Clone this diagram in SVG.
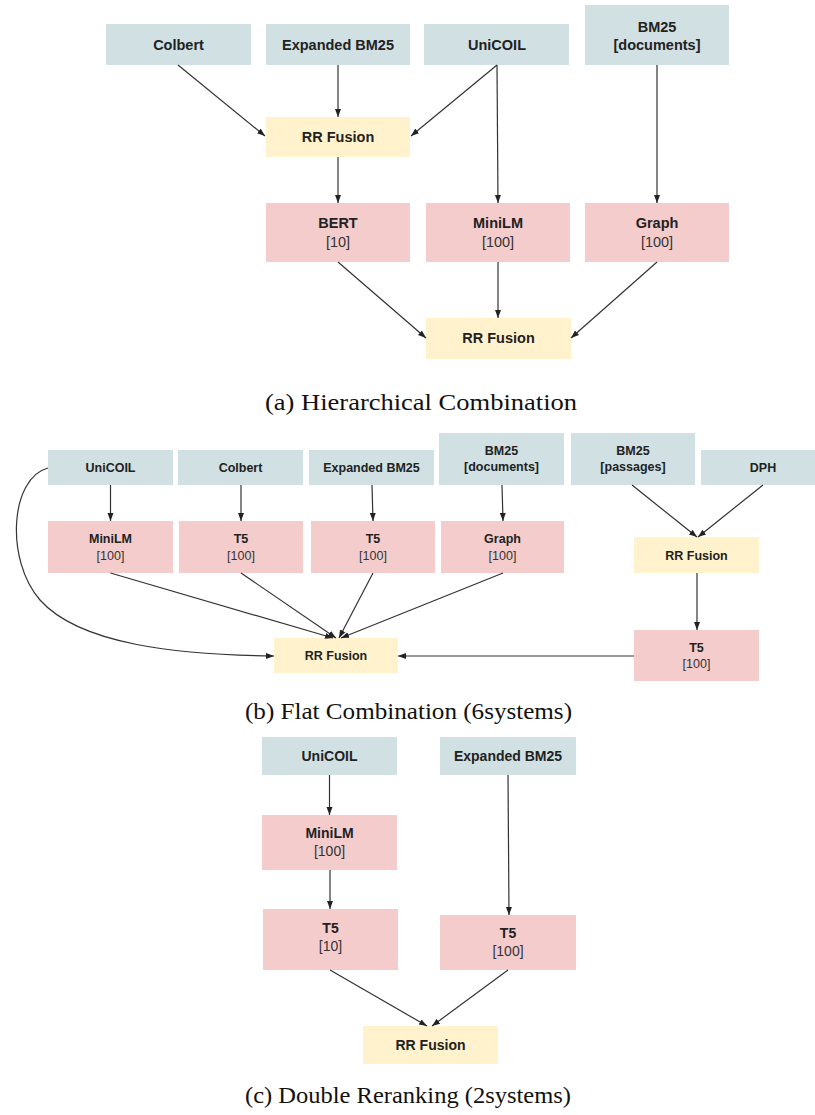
<svg xmlns="http://www.w3.org/2000/svg" width="815" height="1115" viewBox="0 0 815 1115">
<defs>
<marker id="ah" markerUnits="userSpaceOnUse" markerWidth="8" markerHeight="8" viewBox="0 0 8 8" refX="8" refY="4" orient="auto">
<path d="M0,1 L8,4 L0,7 Z" fill="#222"/>
</marker>
<style>
.b{fill:#d0e0e3}
.p{fill:#f4cccc}
.y{fill:#fff2cc}
.t{font-family:"Liberation Sans",Arial,sans-serif;font-weight:bold;fill:#222;text-anchor:middle}
.s{font-family:"Liberation Sans",Arial,sans-serif;fill:#333;text-anchor:middle}
.a{font-size:14.5px}
.bb{font-size:12.5px}
.c{font-size:14px}
.cap{font-family:"Liberation Serif","Times New Roman",serif;font-size:23px;fill:#111}
.e{fill:none;stroke:#333;stroke-width:1.2;marker-end:url(#ah)}
</style>
</defs>
<rect width="815" height="1115" fill="#fff"/>

<!-- (a) Hierarchical Combination -->
<g id="a-colbert"><rect class="b" x="106" y="24" width="145" height="41"/><text class="t a" x="178.5" y="49.5">Colbert</text></g>
<g id="a-expbm25"><rect class="b" x="266" y="24" width="144" height="41"/><text class="t a" x="338" y="49.5">Expanded BM25</text></g>
<g id="a-unicoil"><rect class="b" x="424" y="24" width="145" height="41"/><text class="t a" x="497" y="49.5">UniCOIL</text></g>
<g id="a-bm25docs"><rect class="b" x="585" y="5" width="144" height="60"/><text class="t a" x="657" y="32">BM25</text><text class="t a" x="657" y="50">[documents]</text></g>
<g id="a-rrf1"><rect class="y" x="266" y="117" width="144" height="40"/><text class="t a" x="338" y="142">RR Fusion</text></g>
<g id="a-bert"><rect class="p" x="266" y="203" width="144" height="59"/><text class="t a" x="338" y="228">BERT</text><text class="s a" x="338" y="247">[10]</text></g>
<g id="a-minilm"><rect class="p" x="426" y="203" width="144" height="59"/><text class="t a" x="498" y="228">MiniLM</text><text class="s a" x="498" y="247">[100]</text></g>
<g id="a-graph"><rect class="p" x="585" y="203" width="144" height="59"/><text class="t a" x="657" y="228">Graph</text><text class="s a" x="657" y="247">[100]</text></g>
<g id="a-rrf2"><rect class="y" x="426" y="318" width="145" height="41"/><text class="t a" x="498.5" y="343">RR Fusion</text></g>
<text class="cap" x="265" y="410" textLength="312" lengthAdjust="spacingAndGlyphs">(a) Hierarchical Combination</text>

<!-- (b) Flat Combination -->
<g id="b-unicoil"><rect class="b" x="48" y="450" width="125" height="35"/><text class="t bb" x="110.5" y="471.5">UniCOIL</text></g>
<g id="b-colbert"><rect class="b" x="178" y="450" width="125" height="35"/><text class="t bb" x="240.5" y="471.5">Colbert</text></g>
<g id="b-expbm25"><rect class="b" x="309" y="450" width="125" height="35"/><text class="t bb" x="371.5" y="471.5">Expanded BM25</text></g>
<g id="b-bm25docs"><rect class="b" x="439" y="433" width="125" height="52"/><text class="t bb" x="501.5" y="455">BM25</text><text class="t bb" x="501.5" y="471">[documents]</text></g>
<g id="b-bm25pass"><rect class="b" x="571" y="433" width="124" height="52"/><text class="t bb" x="633" y="455">BM25</text><text class="t bb" x="633" y="471">[passages]</text></g>
<g id="b-dph"><rect class="b" x="701" y="450" width="114" height="35"/><text class="t bb" x="763" y="471.5">DPH</text></g>
<g id="b-minilm"><rect class="p" x="48" y="521" width="125" height="52"/><text class="t bb" x="110.5" y="543">MiniLM</text><text class="s bb" x="110.5" y="560">[100]</text></g>
<g id="b-t5a"><rect class="p" x="179" y="521" width="124" height="52"/><text class="t bb" x="241" y="543">T5</text><text class="s bb" x="241" y="560">[100]</text></g>
<g id="b-t5b"><rect class="p" x="311" y="521" width="124" height="52"/><text class="t bb" x="373" y="543">T5</text><text class="s bb" x="373" y="560">[100]</text></g>
<g id="b-graph"><rect class="p" x="441" y="521" width="123" height="52"/><text class="t bb" x="502.5" y="543">Graph</text><text class="s bb" x="502.5" y="560">[100]</text></g>
<g id="b-rrf2"><rect class="y" x="634" y="537" width="125" height="36"/><text class="t bb" x="696.5" y="559.5">RR Fusion</text></g>
<g id="b-t5c"><rect class="p" x="634" y="630" width="125" height="51"/><text class="t bb" x="696.5" y="652">T5</text><text class="s bb" x="696.5" y="668">[100]</text></g>
<g id="b-rrf"><rect class="y" x="274" y="638" width="124" height="35"/><text class="t bb" x="336" y="660">RR Fusion</text></g>
<text class="cap" x="245" y="719" textLength="327" lengthAdjust="spacingAndGlyphs">(b) Flat Combination (6systems)</text>

<!-- (c) Double Reranking -->
<g id="c-unicoil"><rect class="b" x="262" y="737" width="135" height="38"/><text class="t c" x="329.5" y="760.5">UniCOIL</text></g>
<g id="c-expbm25"><rect class="b" x="440" y="737" width="136" height="38"/><text class="t c" x="508" y="760.5">Expanded BM25</text></g>
<g id="c-minilm"><rect class="p" x="262" y="815" width="135" height="55"/><text class="t c" x="329.5" y="838">MiniLM</text><text class="s c" x="329.5" y="856">[100]</text></g>
<g id="c-t5a"><rect class="p" x="263" y="909" width="135" height="61"/><text class="t c" x="330.5" y="933">T5</text><text class="s c" x="330.5" y="951">[10]</text></g>
<g id="c-t5b"><rect class="p" x="440" y="915" width="136" height="55"/><text class="t c" x="508" y="938">T5</text><text class="s c" x="508" y="956">[100]</text></g>
<g id="c-rrf"><rect class="y" x="363" y="1026" width="135" height="38"/><text class="t c" x="430.5" y="1050">RR Fusion</text></g>
<text class="cap" x="245" y="1103" textLength="326" lengthAdjust="spacingAndGlyphs">(c) Double Reranking (2systems)</text>

<g id="connectors">
<!-- a -->
<line class="e" x1="178" y1="65" x2="265" y2="136"/>
<line class="e" x1="338" y1="65" x2="338" y2="117"/>
<line class="e" x1="497" y1="65" x2="411" y2="136"/>
<line class="e" x1="497" y1="65" x2="498" y2="203"/>
<line class="e" x1="657" y1="65" x2="657" y2="203"/>
<line class="e" x1="338" y1="157" x2="338" y2="203"/>
<line class="e" x1="338" y1="262" x2="426" y2="338"/>
<line class="e" x1="498" y1="262" x2="498" y2="318"/>
<line class="e" x1="657" y1="262" x2="571" y2="338"/>
<!-- b -->
<line class="e" x1="110.5" y1="485" x2="110.5" y2="521"/>
<line class="e" x1="241" y1="485" x2="241" y2="521"/>
<line class="e" x1="372" y1="485" x2="373" y2="521"/>
<line class="e" x1="502" y1="485" x2="503" y2="521"/>
<line class="e" x1="110.5" y1="573" x2="333" y2="638"/>
<line class="e" x1="241" y1="573" x2="336" y2="638"/>
<line class="e" x1="373" y1="573" x2="339" y2="638"/>
<line class="e" x1="503" y1="573" x2="341" y2="638"/>
<path class="e" d="M48,468 C10,478 5,560 40,600 C80,645 180,655 274,656"/>
<line class="e" x1="632" y1="485" x2="697" y2="537"/>
<line class="e" x1="763" y1="485" x2="698" y2="537"/>
<line class="e" x1="697" y1="573" x2="697" y2="630"/>
<line class="e" x1="634" y1="656" x2="398" y2="656"/>
<!-- c -->
<line class="e" x1="329.5" y1="775" x2="329.5" y2="815"/>
<line class="e" x1="330" y1="870" x2="330" y2="909"/>
<line class="e" x1="508" y1="775" x2="509" y2="915"/>
<line class="e" x1="330" y1="970" x2="427" y2="1026"/>
<line class="e" x1="508" y1="970" x2="432" y2="1026"/>
</g>
</svg>
